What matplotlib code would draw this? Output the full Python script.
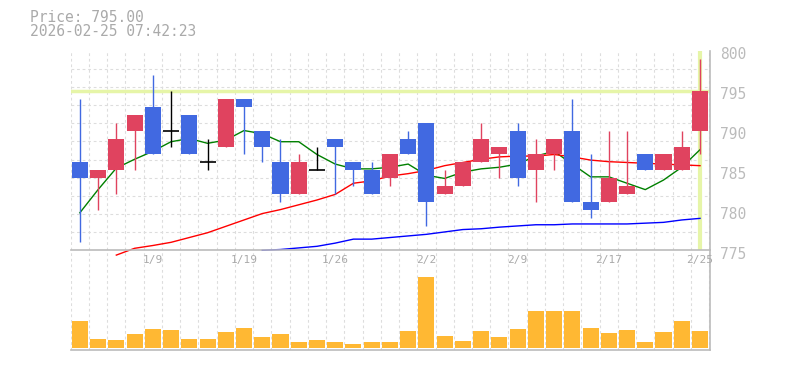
import numpy as np
import matplotlib
matplotlib.use("Agg")
import matplotlib.pyplot as plt
from matplotlib.transforms import ScaledTranslation

# trading days shown on the chart
dates = ["1/5", "1/6", "1/7", "1/8", "1/9", "1/13", "1/14", "1/15", "1/16",
         "1/19", "1/20", "1/21", "1/22", "1/23", "1/26", "1/27", "1/28", "1/29",
         "1/30", "2/2", "2/3", "2/4", "2/5", "2/6", "2/9", "2/10", "2/12", "2/13",
         "2/16", "2/17", "2/18", "2/19", "2/20", "2/24", "2/25"]
shown_dates = ["1/9", "1/19", "1/26", "2/2", "2/9", "2/17", "2/25"]

opens = [786, 784, 785, 790, 793, 790, 792, 786, 788, 794, 790, 786, 782, 785, 789,
         786, 785, 784, 789, 791, 782, 783, 786, 787, 790, 785, 787, 790, 781, 781,
         782, 787, 785, 785, 790]
closes = [784, 785, 789, 792, 787, 790, 787, 786, 794, 793, 788, 782, 786, 785, 788,
          785, 782, 787, 787, 781, 783, 786, 789, 788, 784, 787, 789, 781, 780, 784,
          783, 785, 787, 788, 795]
highs = [794, 785, 791, 792, 797, 795, 792, 789, 794, 794, 790, 789, 787, 788, 789,
         786, 786, 787, 790, 791, 785, 786, 791, 788, 791, 789, 789, 794, 787, 790,
         790, 787, 787, 790, 799]
lows = [776, 780, 782, 785, 787, 788, 787, 785, 788, 787, 786, 781, 782, 785, 782,
        783, 782, 783, 787, 778, 782, 783, 786, 784, 783, 781, 785, 781, 779, 781,
        782, 785, 785, 785, 787]

# moving averages
ma_short = [779.7, 782.6, 785.3, 786.4, 787.4, 788.6, 789.0, 788.4, 788.8, 790.0,
            789.6, 788.6, 788.6, 787.0, 785.8, 785.2, 785.2, 785.4, 785.8, 784.4,
            784.0, 784.8, 785.2, 785.4, 785.8, 786.8, 787.4, 785.8, 784.2, 784.2,
            783.4, 782.6, 783.8, 785.4, 787.6]
ma_mid_start = 2
ma_mid = [774.4, 775.25, 775.6, 776.0, 776.6, 777.2, 778.0, 778.8, 779.6, 780.1,
          780.7, 781.3, 782.0, 783.4, 783.7, 784.3, 784.6, 785.0, 785.6, 786.0,
          786.4, 786.7, 786.8, 786.8, 787.0, 786.7, 786.3, 786.1, 786.0, 785.9,
          785.8, 785.7, 785.6]
ma_long_start = 10
ma_long = [775.0, 775.1, 775.3, 775.5, 775.9, 776.4, 776.4, 776.6, 776.8, 777.0,
           777.3, 777.6, 777.7, 777.9, 778.05, 778.2, 778.2, 778.3, 778.3, 778.3,
           778.3, 778.4, 778.5, 778.8, 779.0]

volumes = [27, 9, 8, 14, 19, 18, 9, 9, 16, 20, 11, 14, 6, 8, 6, 4, 6, 6, 17, 71,
           12, 7, 17, 11, 19, 37, 37, 37, 20, 15, 18, 6, 16, 27, 17]

price_now = 795.00
timestamp = "2026-02-25 07:42:23"

UP = "#E0435F"
DOWN = "#4169E1"
GRID = "#DDDDDD"
SPINE = "#BBBBBB"
MARK = "#E6F5A8"
MONO = "DejaVu Sans Mono"

x = np.arange(len(dates))
o = np.array(opens, dtype=float)
c = np.array(closes, dtype=float)
h = np.array(highs, dtype=float)
l = np.array(lows, dtype=float)

fig = plt.figure(figsize=(7.85, 3.7), dpi=100)
axv = fig.add_axes([0.0901, 0.054, 0.8144, 0.2695])
ax = fig.add_axes([0.0901, 0.3235, 0.8144, 0.5395], sharex=axv)
axv.patch.set_visible(False)
ax.patch.set_visible(False)


def style(a):
    a.set_xticks(np.arange(-0.5, len(dates), 1), minor=True)
    a.grid(which="minor", axis="x", color=GRID, lw=0.8, ls=(0, (2.5, 2.5)))
    for s in ["top", "left"]:
        a.spines[s].set_visible(False)
    for s in ["bottom", "right"]:
        a.spines[s].set_color(SPINE)
        a.spines[s].set_linewidth(1.2)
    a.tick_params(which="both", length=0)
    a.set_axisbelow(True)


style(ax)
style(axv)

ax.set_xlim(-0.5, 34.55)
ax.set_ylim(775, 800)
ax.set_yticks(775 + np.arange(12) * 25 / 11, minor=True)
ax.grid(which="minor", axis="y", color=GRID, lw=0.8, ls=(0, (2.5, 2.5)))
ax.yaxis.tick_right()
ax.set_yticks([775, 780, 785, 790, 795, 800])
ax.tick_params(axis="y", which="major", pad=7, labelsize=10.5, labelcolor="#BBBBBB")
for lab in ax.get_yticklabels():
    lab.set_family(MONO)
    lab.set_transform(lab.get_transform() + ScaledTranslation(0, -0.025, fig.dpi_scale_trans))

ticks = [dates.index(d) for d in shown_dates]
ax.set_xticks(ticks)
ax.set_xticklabels(shown_dates, family=MONO, fontsize=8, color="#AAAAAA")
ax.tick_params(axis="x", which="major", pad=3.5, labelbottom=True)
axv.tick_params(axis="x", which="major", labelbottom=False)

# current price marker lines
ax.axhline(price_now, color=MARK, lw=2.5, zorder=1)
ax.axvline(x[-1], color=MARK, lw=3, zorder=1)

# moving averages
ax.plot(x, ma_short, color="#008000", lw=1, zorder=2, clip_on=False)
ax.plot(x[ma_mid_start:], ma_mid, color="#FF0000", lw=1, zorder=2, clip_on=False)
ax.plot(x[ma_long_start:], ma_long, color="#0000FF", lw=1, zorder=2, clip_on=False)

# candles
col = np.where(c > o, UP, np.where(c < o, DOWN, "black"))
ax.vlines(x, l, h, colors=col, lw=1, zorder=3)
body = c != o
ax.bar(x[body], np.abs(c - o)[body], bottom=np.minimum(o, c)[body], width=0.88,
       color=col[body], zorder=4)
ax.hlines(c[~body], x[~body] - 0.44, x[~body] + 0.44, colors="black", lw=1.2, zorder=4)

# volume
axv.bar(x, volumes, width=0.88, color="#FFB833", zorder=3)
axv.set_ylim(-2, 97.7)
axv.set_yticks([])

fig.text(30 / 785, 1 - 17 / 370, f"Price: {price_now:.2f}", family=MONO, fontsize=10.5,
         color="#AAAAAA", va="center", ha="left")
fig.text(30 / 785, 1 - 32 / 370, timestamp, family=MONO, fontsize=10.5,
         color="#AAAAAA", va="center", ha="left")

fig.savefig("out.png", dpi=100)
